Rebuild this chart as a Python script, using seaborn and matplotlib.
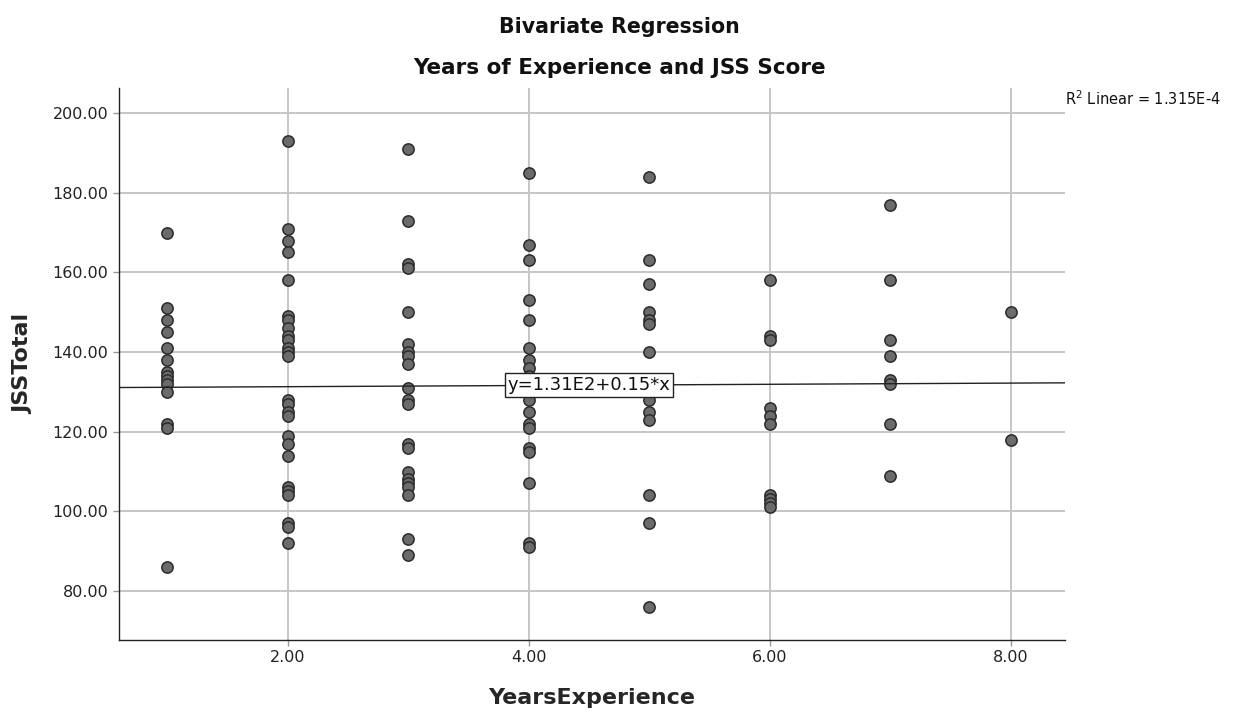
import numpy as np
import pandas as pd
import matplotlib
matplotlib.use("Agg")
import matplotlib.pyplot as plt
import seaborn as sns

# Values, one list per experience level
jss_1yr = [170, 151, 148, 145, 141, 138, 135, 134, 133, 132, 130, 122, 121, 86]
jss_2yr = [193, 171, 168, 165, 158, 149, 148, 146, 144, 143, 141, 140, 139,
           128, 127, 125, 124, 119, 117, 114, 106, 105, 104, 97, 96, 92]
jss_3yr = [191, 173, 162, 161, 150, 142, 140, 139, 137, 131, 128, 127,
           117, 116, 110, 108, 107, 106, 104, 93, 89]
jss_4yr = [185, 167, 163, 153, 148, 141, 138, 136, 134, 130, 128, 125,
           122, 121, 116, 115, 107, 92, 91]
jss_5yr = [184, 163, 157, 150, 148, 147, 140, 130, 128, 125, 123, 104, 97, 76]
jss_6yr = [158, 144, 143, 126, 124, 122, 104, 103, 102, 101]
jss_7yr = [177, 158, 143, 139, 133, 132, 122, 109]
jss_8yr = [150, 118]

years = [1, 2, 3, 4, 5, 6, 7, 8]
groups = [jss_1yr, jss_2yr, jss_3yr, jss_4yr, jss_5yr, jss_6yr, jss_7yr, jss_8yr]

# Fit as reported in the chart
intercept = 131.0
slope = 0.15
fit_label = "y=1.31E2+0.15*x"
r2_label = "R$^2$ Linear = 1.315E-4"

x_ticks = [2, 4, 6, 8]
y_ticks = [80, 100, 120, 140, 160, 180, 200]

df = pd.DataFrame({
    "YearsExperience": np.concatenate([[yr] * len(g) for yr, g in zip(years, groups)]),
    "JSSTotal": np.concatenate(groups),
})

sns.set_style("white")
plt.rcParams["font.family"] = ["DejaVu Sans"]
plt.rcParams["text.color"] = "#111111"

fig = plt.figure(figsize=(12.39, 7.13), dpi=100)
ax = fig.add_axes([0.096, 0.1024, 0.7636, 0.7742])

ax.set_xlim(0.6, 8.45)
ax.set_ylim(67.7, 206.3)
ax.set_xticks(x_ticks)
ax.set_yticks(y_ticks)
ax.set_xticklabels([f"{v:.2f}" for v in x_ticks], fontsize=11.5)
ax.set_yticklabels([f"{v:.2f}" for v in y_ticks], fontsize=11.5)
ax.grid(True, color="#c6c6c6", linewidth=1.4, zorder=0)
ax.set_axisbelow(True)

sns.scatterplot(data=df, x="YearsExperience", y="JSSTotal", ax=ax,
                s=66, color="#6b6b6b", edgecolor="#2b2b2b", linewidth=1.1,
                zorder=3, legend=False)

ax.axline((0, intercept), slope=slope, color="#222222", linewidth=1.0, zorder=4)

ax.text(4.5, intercept + slope * 4.5, fit_label, fontsize=13,
        ha="center", va="center", zorder=5,
        bbox=dict(boxstyle="square,pad=0.15", facecolor="white",
                  edgecolor="#222222", linewidth=1.0))

for side in ["top", "right"]:
    ax.spines[side].set_visible(False)
for side in ["left", "bottom"]:
    ax.spines[side].set_color("#222222")
    ax.spines[side].set_linewidth(1.0)
ax.tick_params(axis="both", bottom=True, left=True, length=4, width=1,
               color="#999999", labelcolor="#222222")

ax.set_xlabel("YearsExperience", fontsize=16, fontweight="bold", labelpad=16)
ax.set_ylabel("JSSTotal", fontsize=16, fontweight="bold", labelpad=14)

fig.text(0.5, 1 - 27 / 713, "Bivariate Regression", fontsize=14.8,
         fontweight="bold", ha="center", va="center")
fig.text(0.5, 1 - 68 / 713, "Years of Experience and JSS Score", fontsize=15.5,
         fontweight="bold", ha="center", va="center")
fig.text(1065 / 1239, 1 - 99 / 713, r2_label, fontsize=10.5,
         ha="left", va="center")

fig.savefig("out.png", dpi=100)
